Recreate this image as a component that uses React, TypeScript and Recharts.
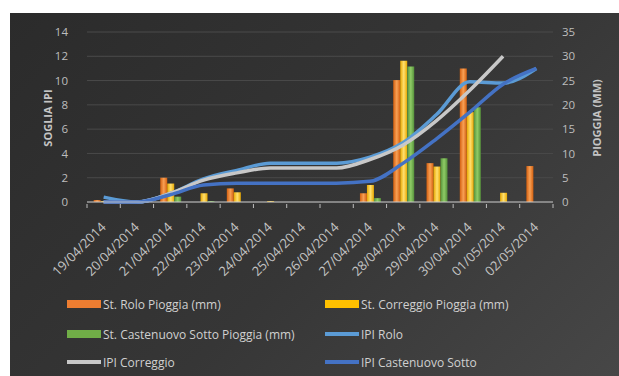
import React from "react";
import {
  ComposedChart,
  Bar,
  Line,
  XAxis,
  YAxis,
  CartesianGrid,
  Label,
} from "recharts";

const dates = [
  "19/04/2014", "20/04/2014", "21/04/2014", "22/04/2014", "23/04/2014",
  "24/04/2014", "25/04/2014", "26/04/2014", "27/04/2014", "28/04/2014",
  "29/04/2014", "30/04/2014", "01/05/2014", "02/05/2014",
];

// rain (mm), right axis
const roloRain = [0.4, 0, 5.0, 0, 2.8, 0, 0, 0, 1.8, 25.1, 8.0, 27.5, 0, 7.4];
const correggioRain = [0.2, 0, 3.8, 1.8, 2.0, 0.2, 0, 0, 3.5, 29.1, 7.3, 18.5, 1.9, 0];
const castenuovoRain = [0, 0, 1.1, 0.2, 0, 0, 0, 0, 0.8, 27.9, 9.0, 19.5, 0, 0];

// IPI threshold, left axis
const ipiRolo = [0.4, 0, 0.7, 1.9, 2.6, 3.2, 3.2, 3.2, 3.7, 4.9, 7.2, 9.9, 9.8, 11.0];
const ipiCorreggio = [0, 0, 0.7, 1.8, 2.4, 2.8, 2.8, 2.8, 3.5, 4.7, 6.7, 9.2, 12.0, null];
const ipiCastenuovo = [0, 0, 0.6, 1.4, 1.55, 1.55, 1.55, 1.55, 1.7, 3.2, 5.2, 7.4, 9.7, 11.0];

const leftTicks = [0, 2, 4, 6, 8, 10, 12, 14];
const rightTicks = [0, 5, 10, 15, 20, 25, 30, 35];

const data = dates.map((d, i) => ({
  date: d,
  roloRain: roloRain[i],
  correggioRain: correggioRain[i],
  castenuovoRain: castenuovoRain[i],
  ipiRolo: ipiRolo[i],
  ipiCorreggio: ipiCorreggio[i],
  ipiCastenuovo: ipiCastenuovo[i],
}));

const legendItems = [
  { name: "St. Rolo Pioggia (mm)", color: "#ed7d31", kind: "bar" },
  { name: "St. Correggio Pioggia (mm)", color: "#ffc000", kind: "bar" },
  { name: "St. Castenuovo Sotto Pioggia (mm)", color: "#70ad47", kind: "bar" },
  { name: "IPI Rolo", color: "#5b9bd5", kind: "line" },
  { name: "IPI Correggio", color: "#c8c8c8", kind: "line" },
  { name: "IPI Castenuovo Sotto", color: "#4472c4", kind: "line" },
];

const FONT = "'Open Sans', sans-serif";
const BAND = 466 / dates.length;

const DateTick = (props: any) => {
  const { x, y, payload, index } = props;
  const tx = x + 3;
  const ty = y + 24;
  return (
    <g>
      <line x1={x - BAND / 2} y1={y} x2={x - BAND / 2} y2={y + 4} stroke="#bdbdbd" />
      {index === dates.length - 1 && (
        <line x1={x + BAND / 2} y1={y} x2={x + BAND / 2} y2={y + 4} stroke="#bdbdbd" />
      )}
      <text
        x={tx}
        y={ty}
        textAnchor="end"
        fontSize={13}
        fontFamily={FONT}
        fill="#c4c4c4"
        transform={`rotate(-45, ${tx}, ${ty})`}
      >
        {payload.value}
      </text>
    </g>
  );
};

const gradient = (id: string, edge: string, mid: string) => (
  <linearGradient id={id} x1="0" y1="0" x2="1" y2="0">
    <stop offset="0%" stopColor={edge} />
    <stop offset="50%" stopColor={mid} />
    <stop offset="100%" stopColor={edge} />
  </linearGradient>
);

const App = () => {
  return (
    <div
      style={{
        position: "fixed",
        left: 0,
        top: 0,
        width: 619,
        height: 376,
        background: "#ffffff",
        fontFamily: FONT,
      }}
    >
      <div
        style={{
          position: "absolute",
          left: 10,
          top: 13,
          width: 609,
          height: 363,
          background: "linear-gradient(135deg, #2b2b2b 0%, #363636 55%, #474747 100%)",
        }}
      >
        <ComposedChart
          width={609}
          height={363}
          data={data}
          margin={{ top: 19, right: 26, left: 37, bottom: 0 }}
          barCategoryGap="20%"
          barGap={0}
        >
          <defs>
            {gradient("gOrange", "#d4600f", "#f8a055")}
            {gradient("gYellow", "#e8a800", "#ffe070")}
            {gradient("gGreen", "#55913a", "#8fcb66")}
          </defs>
          <CartesianGrid yAxisId="left" vertical={false} stroke="#4a4a4a" />
          <XAxis
            dataKey="date"
            height={174}
            interval={0}
            tick={<DateTick />}
            tickLine={false}
            tickSize={0}
            stroke="#c8c8c8"
          />
          <YAxis
            yAxisId="left"
            width={40}
            domain={[0, 14]}
            ticks={leftTicks}
            axisLine={false}
            tickLine={false}
            tickSize={0}
            tickMargin={19}
            tick={{ fontSize: 11.5, fill: "#bdbdbd", fontFamily: FONT }}
          >
            <Label
              content={() => (
                <text
                  x={42}
                  y={105}
                  textAnchor="middle"
                  fontSize={11}
                  fontWeight="bold"
                  fontFamily={FONT}
                  fill="#c4c4c4"
                  transform="rotate(-90, 42, 105)"
                >
                  SOGLIA IPI
                </text>
              )}
            />
          </YAxis>
          <YAxis
            yAxisId="right"
            orientation="right"
            width={40}
            domain={[0, 35]}
            ticks={rightTicks}
            axisLine={false}
            tickLine={false}
            tickSize={0}
            tickMargin={9}
            tick={{ fontSize: 11.5, fill: "#bdbdbd", fontFamily: FONT }}
          >
            <Label
              content={() => (
                <text
                  x={591}
                  y={105}
                  textAnchor="middle"
                  fontSize={11}
                  fontWeight="bold"
                  fontFamily={FONT}
                  fill="#c4c4c4"
                  transform="rotate(-90, 591, 105)"
                >
                  PIOGGIA (MM)
                </text>
              )}
            />
          </YAxis>
          <Bar yAxisId="right" dataKey="roloRain" fill="url(#gOrange)" isAnimationActive={false} />
          <Bar yAxisId="right" dataKey="correggioRain" fill="url(#gYellow)" isAnimationActive={false} />
          <Bar yAxisId="right" dataKey="castenuovoRain" fill="url(#gGreen)" isAnimationActive={false} />
          <Line
            yAxisId="left"
            type="monotone"
            dataKey="ipiRolo"
            stroke="#5b9bd5"
            strokeWidth={3.5}
            dot={false}
            isAnimationActive={false}
          />
          <Line
            yAxisId="left"
            type="monotone"
            dataKey="ipiCorreggio"
            stroke="#c8c8c8"
            strokeWidth={3.5}
            dot={false}
            isAnimationActive={false}
          />
          <Line
            yAxisId="left"
            type="monotone"
            dataKey="ipiCastenuovo"
            stroke="#4472c4"
            strokeWidth={3.5}
            dot={false}
            isAnimationActive={false}
          />
        </ComposedChart>
      </div>
      {legendItems.map((item, i) => {
        const col = i % 2;
        const row = Math.floor(i / 2);
        const left = col === 0 ? 67 : 325;
        const cy = [304, 334, 362][row];
        return (
          <div
            key={item.name}
            style={{
              position: "absolute",
              left,
              top: cy - 9,
              height: 18,
              display: "flex",
              alignItems: "center",
              whiteSpace: "nowrap",
              fontSize: 12,
              color: "#d0d0d0",
            }}
          >
            <span
              style={{
                display: "inline-block",
                width: 34,
                height: item.kind === "bar" ? 8 : 4,
                background: item.color,
                marginRight: 2,
              }}
            />
            {item.name}
          </div>
        );
      })}
    </div>
  );
};

export default App;
